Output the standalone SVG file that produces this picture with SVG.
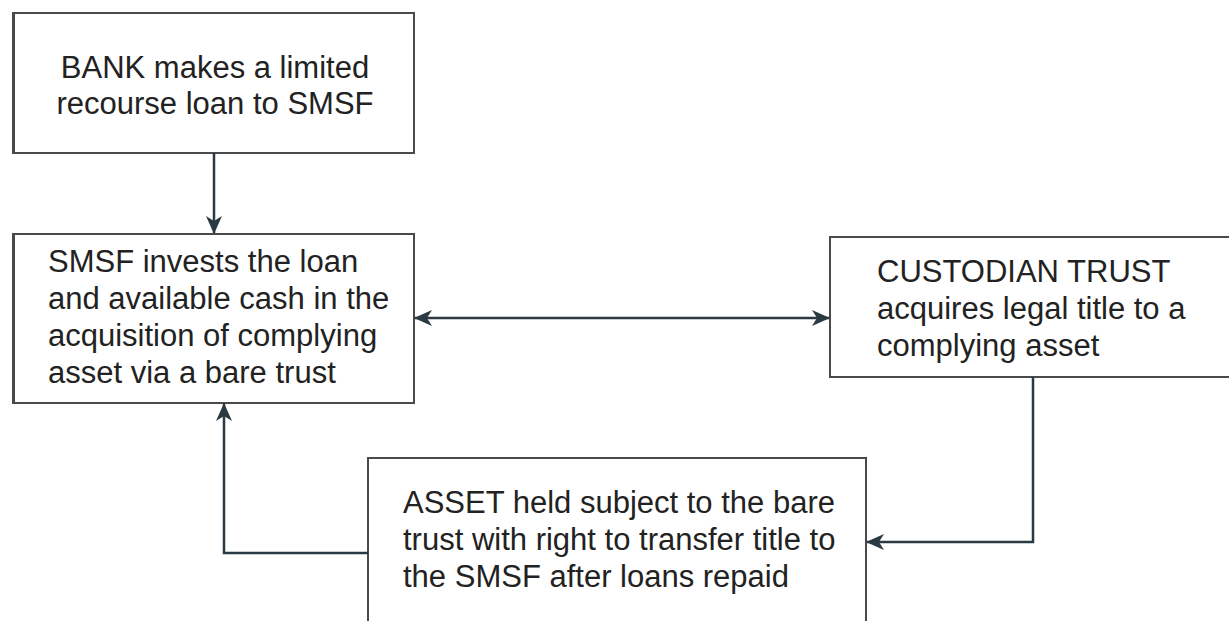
<svg xmlns="http://www.w3.org/2000/svg" width="1229" height="621" viewBox="0 0 1229 621">
  <defs>
    <style>
      .box { fill: #ffffff; stroke: #4a4a4a; stroke-width: 2; }
      .txt { font-family: "Liberation Sans", Arial, sans-serif; font-size: 31px; fill: #222222; }
      .conn { fill: none; stroke: #2b3a42; stroke-width: 2.5; }
    </style>
    <marker id="arr" viewBox="0 0 18 16" refX="17" refY="8" markerWidth="18" markerHeight="16" markerUnits="userSpaceOnUse" orient="auto-start-reverse">
      <path d="M0,0 L18,8 L0,16 L5,8 Z" fill="#2b3a42"/>
    </marker>
  </defs>
  <rect width="1229" height="621" fill="#ffffff"/>

  <g id="node-bank">
    <rect class="box" x="13" y="13" width="401" height="140"/>
    <line x1="14" y1="13" x2="14" y2="153" stroke="#4a4a4a" stroke-width="2"/>
    <text class="txt" x="215" text-anchor="middle"><tspan x="215" y="78">BANK makes a limited</tspan><tspan x="215" y="114">recourse loan to SMSF</tspan></text>
  </g>

  <g id="node-smsf">
    <rect class="box" x="13" y="234" width="401" height="169"/>
    <line x1="14" y1="234" x2="14" y2="403" stroke="#4a4a4a" stroke-width="2"/>
    <text class="txt"><tspan x="48" y="272">SMSF invests the loan</tspan><tspan x="48" y="309">and available cash in the</tspan><tspan x="48" y="346">acquisition of complying</tspan><tspan x="48" y="383">asset via a bare trust</tspan></text>
  </g>

  <g id="node-custodian">
    <rect class="box" x="830" y="237" width="402" height="140"/>
    <text class="txt"><tspan x="877" y="282">CUSTODIAN TRUST</tspan><tspan x="877" y="319">acquires legal title to a</tspan><tspan x="877" y="356">complying asset</tspan></text>
  </g>

  <g id="node-asset">
    <rect class="box" x="368" y="458" width="498" height="170"/>
    <text class="txt"><tspan x="403" y="513">ASSET held subject to the bare</tspan><tspan x="403" y="550">trust with right to transfer title to</tspan><tspan x="403" y="587">the SMSF after loans repaid</tspan></text>
  </g>

  <g id="connectors">
    <path class="conn" d="M214,153 V233" marker-end="url(#arr)"/>
    <path class="conn" d="M415,318 H829" marker-start="url(#arr)" marker-end="url(#arr)"/>
    <path class="conn" d="M1033,377 V542 H867" marker-end="url(#arr)"/>
    <path class="conn" d="M368,553 H224 V404" marker-end="url(#arr)"/>
  </g>
</svg>
